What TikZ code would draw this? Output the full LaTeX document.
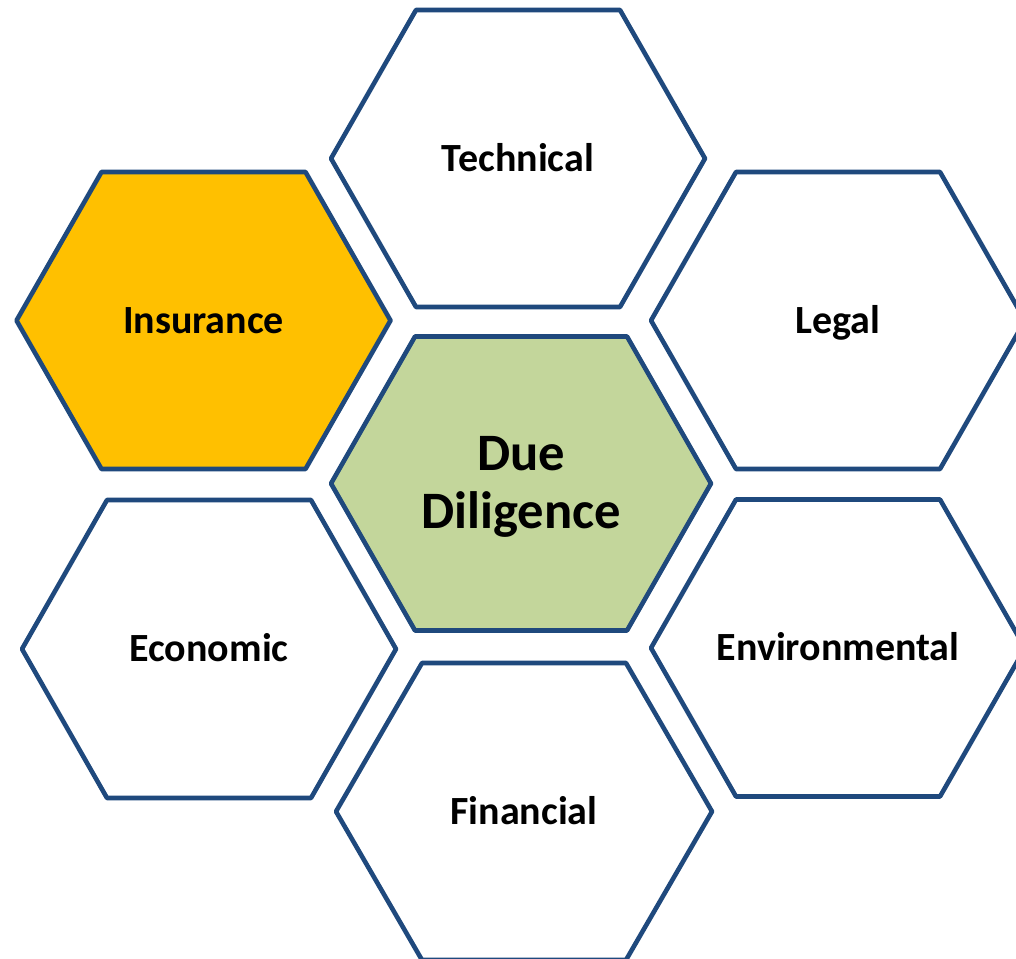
\documentclass[tikz,border=0pt]{standalone}
\usepackage{fontspec}
\setmainfont{Carlito}
\definecolor{hexline}{HTML}{1F497D}
\definecolor{hexgold}{HTML}{FFC000}
\definecolor{hexgreen}{HTML}{C3D69B}
% \honeycell{name}{cx}{cy}{half width}{half top width}{half height}{fill}{label}
\newcommand\honeycell[8]{%
  \coordinate (#1-c) at (#2,#3);
  \draw[hexedge, fill=#7] (#1-c) ++(-#4,0) -- ++({#4-#5},-#6) -- ++({2*#5},0)
    -- ++({#4-#5},#6) -- ++({#5-#4},#6) -- ++({-2*#5},0) -- cycle;
  \node[hexlabel] (#1) at (#1-c) {#8};
}
\begin{document}
\begin{tikzpicture}[x=0.5pt,y=-0.5pt,
  hexedge/.style={draw=hexline, line width=2.3pt, line join=round},
  hexlabel/.style={font=\fontsize{20}{24}\selectfont\bfseries, text=black, align=center,
    text height=12.9pt, text depth=0pt},
  centrelabel/.style={font=\fontsize{26.3}{29}\selectfont\bfseries, text=black, align=center,
    text depth=0pt}]
  \useasboundingbox (0,0) rectangle (1016,958);
  \fill[white] (0,0) rectangle (1016,958);
  \clip (0,0) rectangle (1016,958);
  % outer ring of cells
  \honeycell{technical}{518}{158.5}{187}{102}{148.5}{white}{Technical}
  \honeycell{insurance}{203.5}{320.5}{187}{102}{148.5}{hexgold}{Insurance}
  \honeycell{legal}{838}{320.5}{187}{102}{148.5}{white}{Legal}
  \honeycell{economic}{209}{649}{187}{102}{149}{white}{Economic}
  \honeycell{environmental}{838}{648}{187}{102}{148.5}{white}{Environmental}
  \honeycell{financial}{524}{811.5}{188}{102}{148.5}{white}{Financial}
  % central cell
  \honeycell{duediligence}{521}{483.5}{190}{106}{147}{hexgreen}{}
  \node[centrelabel] (ddtext) at (521,482) {Due\\Diligence};
\end{tikzpicture}
\end{document}
